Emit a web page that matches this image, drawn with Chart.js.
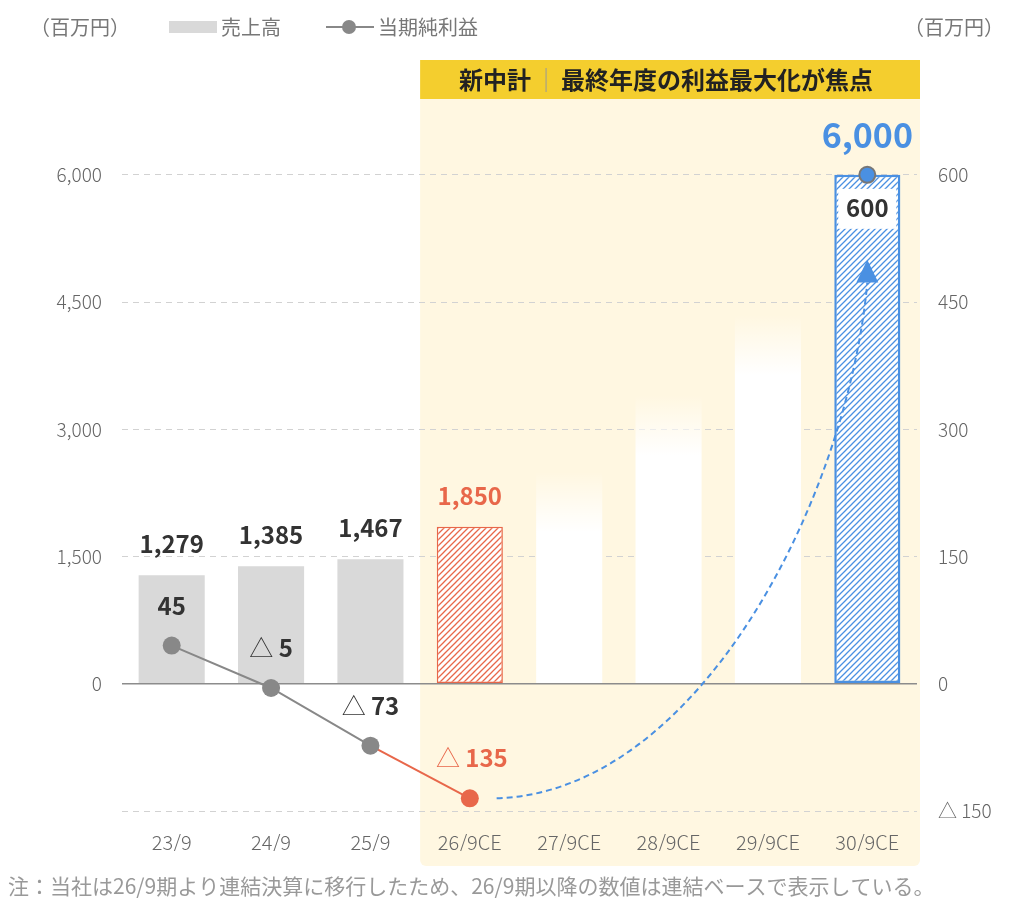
<!DOCTYPE html>
<html>
<head>
<meta charset="utf-8">
<script src="https://cdn.jsdelivr.net/npm/chart.js@4/dist/chart.umd.min.js"></script>
<style>
  body { margin: 0; background: #fff; }
  #wrap { width: 1010px; height: 907px; }
</style>
</head>
<body>
<div id="wrap"><canvas id="myChart" width="1010" height="907"></canvas></div>
<script>
// data
const categories = ['23/9', '24/9', '25/9', '26/9CE', '27/9CE', '28/9CE', '29/9CE', '30/9CE'];
const sales = [1279, 1385, 1467, 1850, 2500, 3400, 4350, 6000];
const salesLabels = ['1,279', '1,385', '1,467', '1,850', null, null, null, '6,000'];
const profit = [45, -5, -73, -135, null, null, null, 600];
const profitLabels = ['45', '△ 5', '△ 73', '△ 135', null, null, null, '600'];
const leftTicks = [-1500, 0, 1500, 3000, 4500, 6000];
const leftTickLabels = ['', '0', '1,500', '3,000', '4,500', '6,000'];
const rightTicks = [-150, 0, 150, 300, 450, 600];
const rightTickLabels = ['△ 150', '0', '150', '300', '450', '600'];
// guide arrow (category index, right-axis value)
const arrowPath = [[3.27, -135], [5.3, -128], [6.8, 217], [7, 473]];
const arrowTip = 500;

const firstPlan = 3;
const lastIdx = categories.length - 1;
const FONT = '"Noto Sans CJK JP", "Noto Sans", sans-serif';
const RED = '#E8674A';
const BLUE = '#4A90E2';
const GRAY = '#888888';

function makeHatch(color) {
  const c = document.createElement('canvas');
  c.width = 6; c.height = 6;
  const g = c.getContext('2d');
  g.fillStyle = '#fff';
  g.fillRect(0, 0, 6, 6);
  g.strokeStyle = color;
  g.lineWidth = 1.3;
  g.beginPath();
  g.moveTo(0, 6); g.lineTo(6, 0);
  g.moveTo(-1, 1); g.lineTo(1, -1);
  g.moveTo(5, 7); g.lineTo(7, 5);
  g.stroke();
  return g.createPattern(c, 'repeat');
}
const redHatch = makeHatch(RED);
const blueHatch = makeHatch(BLUE);

function barFill(ctx) {
  if (ctx.type !== 'data') return '#d9d9d9';
  const i = ctx.dataIndex;
  if (i < firstPlan) return '#d9d9d9';
  if (i === firstPlan) return redHatch;
  if (i === lastIdx) return blueHatch;
  const y = ctx.chart.scales.y;
  if (!y || !ctx.chart.chartArea) return '#fff';
  const top = y.getPixelForValue(sales[i]);
  const g = ctx.chart.ctx.createLinearGradient(0, top, 0, top + 60);
  g.addColorStop(0, 'rgba(255,255,255,0)');
  g.addColorStop(1, '#ffffff');
  return g;
}

// yellow plan area + banner
const planBg = {
  id: 'planBg',
  beforeDraw(chart) {
    const ctx = chart.ctx, x = chart.scales.x;
    const half = (x.getPixelForValue(1) - x.getPixelForValue(0)) / 2;
    const l = x.getPixelForValue(firstPlan) - half;
    const r = x.getPixelForValue(lastIdx) + half + 3;
    ctx.save();
    ctx.fillStyle = '#FFF7E1';
    ctx.beginPath();
    ctx.roundRect(l, 60, r - l, 806, [0, 0, 6, 6]);
    ctx.fill();
    ctx.fillStyle = '#F4CE2E';
    ctx.fillRect(l, 60, r - l, 39);
    ctx.font = 'bold 24px ' + FONT;
    ctx.fillStyle = '#222';
    ctx.textBaseline = 'middle';
    const t1 = '新中計', t2 = '最終年度の利益最大化が焦点';
    const w1 = ctx.measureText(t1).width, w2 = ctx.measureText(t2).width;
    const gap = 15;
    const sx = (l + r) / 2 - 4 - (w1 + w2 + gap * 2) / 2;
    ctx.fillText(t1, sx, 80);
    ctx.strokeStyle = '#999';
    ctx.lineWidth = 1;
    ctx.beginPath();
    ctx.moveTo(sx + w1 + gap, 68); ctx.lineTo(sx + w1 + gap, 92);
    ctx.stroke();
    ctx.fillText(t2, sx + w1 + gap * 2, 80);
    ctx.restore();
  }
};

function drawDelta(ctx, text, cx, cy, color) {
  // '△' in light weight, number bold
  const parts = text.split(' ');
  ctx.fillStyle = color;
  ctx.textBaseline = 'middle';
  ctx.textAlign = 'left';
  if (parts.length === 1) {
    ctx.font = 'bold 24px ' + FONT;
    const w = ctx.measureText(text).width;
    ctx.fillText(text, cx - w / 2, cy);
    return;
  }
  ctx.font = '300 24px ' + FONT;
  const wt = ctx.measureText('△ ').width;
  ctx.font = 'bold 24px ' + FONT;
  const wn = ctx.measureText(parts[1]).width;
  const sx = cx - (wt + wn) / 2;
  ctx.font = '300 24px ' + FONT;
  ctx.fillText('△', sx, cy);
  ctx.font = 'bold 24px ' + FONT;
  ctx.fillText(parts[1], sx + wt, cy);
}

const labelsPlugin = {
  id: 'labelsPlugin',
  afterDatasetsDraw(chart) {
    const ctx = chart.ctx, x = chart.scales.x, y1 = chart.scales.y1;
    const bars = chart.getDatasetMeta(0).data;
    const pts = chart.getDatasetMeta(1).data;
    ctx.save();
    // guide arrow
    const P = arrowPath.map(p => [x.getPixelForValue(p[0]), y1.getPixelForValue(p[1])]);
    ctx.strokeStyle = BLUE;
    ctx.lineWidth = 2;
    ctx.setLineDash([6, 4]);
    ctx.beginPath();
    ctx.moveTo(P[0][0], P[0][1]);
    ctx.bezierCurveTo(P[1][0], P[1][1], P[2][0], P[2][1], P[3][0], P[3][1]);
    ctx.stroke();
    ctx.setLineDash([]);
    const tipY = y1.getPixelForValue(arrowTip);
    ctx.fillStyle = BLUE;
    ctx.beginPath();
    ctx.moveTo(P[3][0], tipY);
    ctx.lineTo(P[3][0] - 11, P[3][1]);
    ctx.lineTo(P[3][0] + 11, P[3][1]);
    ctx.closePath();
    ctx.fill();

    // bar labels
    ctx.textAlign = 'center';
    ctx.textBaseline = 'middle';
    bars.forEach((b, i) => {
      if (!salesLabels[i]) return;
      if (i === lastIdx) {
        ctx.font = 'bold 34px ' + FONT;
        ctx.fillStyle = BLUE;
        ctx.fillText(salesLabels[i], b.x, b.y - 40);
      } else {
        ctx.font = 'bold 24px ' + FONT;
        ctx.fillStyle = i === firstPlan ? RED : '#333';
        ctx.fillText(salesLabels[i], b.x, b.y - 31);
      }
    });
    // profit labels
    pts.forEach((p, i) => {
      if (!profitLabels[i] || profit[i] === null) return;
      if (i === lastIdx) {
        const b = bars[i];
        ctx.fillStyle = '#fff';
        ctx.fillRect(b.x - b.width / 2 + 4, p.y + 14, b.width - 8, 40);
        ctx.font = 'bold 24px ' + FONT;
        ctx.fillStyle = '#333';
        ctx.textAlign = 'center';
        ctx.fillText(profitLabels[i], b.x, p.y + 33);
      } else {
        drawDelta(ctx, profitLabels[i], p.x + (i === firstPlan ? 2 : 0), p.y - 40, i === firstPlan ? RED : '#333');
      }
    });
    ctx.restore();
  },
  afterDraw(chart) {
    const ctx = chart.ctx;
    ctx.save();
    ctx.textBaseline = 'middle';
    ctx.font = '20px ' + FONT;
    ctx.fillStyle = '#777';
    ctx.textAlign = 'left';
    ctx.fillText('（百万円）', 30, 27);
    ctx.textAlign = 'right';
    ctx.fillText('（百万円）', 1004, 27);
    ctx.textAlign = 'left';
    ctx.fillStyle = '#d9d9d9';
    ctx.fillRect(169, 21, 48, 12);
    ctx.fillStyle = '#777';
    ctx.fillText('売上高', 221, 27);
    ctx.strokeStyle = GRAY;
    ctx.lineWidth = 2;
    ctx.beginPath();
    ctx.moveTo(326, 27); ctx.lineTo(374, 27);
    ctx.stroke();
    ctx.fillStyle = GRAY;
    ctx.beginPath();
    ctx.arc(349, 27, 7, 0, Math.PI * 2);
    ctx.fill();
    ctx.fillStyle = '#777';
    ctx.fillText('当期純利益', 378, 27);
    // footnote
    ctx.font = '21px ' + FONT;
    ctx.fillStyle = '#999';
    ctx.fillText('注：当社は26/9期より連結決算に移行したため、26/9期以降の数値は連結ベースで表示している。', 8, 886);
    ctx.restore();
  }
};

const config = {
  data: {
    labels: categories,
    datasets: [{
      type: 'bar',
      label: '売上高',
      data: sales,
      yAxisID: 'y',
      order: 2,
      backgroundColor: barFill,
      borderColor: ctx => ctx.dataIndex === lastIdx ? BLUE : RED,
      borderWidth: ctx => ctx.dataIndex === firstPlan ? 1.5 : (ctx.dataIndex === lastIdx ? 2.5 : 0),
      borderSkipped: false,
      categoryPercentage: 1,
      barPercentage: 0.665
    }, {
      type: 'line',
      label: '当期純利益',
      data: profit,
      yAxisID: 'y1',
      order: 1,
      borderColor: GRAY,
      borderWidth: 2,
      spanGaps: false,
      segment: {
        borderColor: ctx => ctx.p1DataIndex === firstPlan ? RED : GRAY
      },
      pointRadius: ctx => ctx.dataIndex === lastIdx ? 8 : 9,
      pointBackgroundColor: ctx => ctx.dataIndex === firstPlan ? RED : (ctx.dataIndex === lastIdx ? BLUE : GRAY),
      pointBorderColor: ctx => ctx.dataIndex === lastIdx ? '#777' : 'rgba(0,0,0,0)',
      pointBorderWidth: ctx => ctx.dataIndex === lastIdx ? 2 : 0
    }]
  },
  options: {
    responsive: false,
    animation: false,
    layout: { padding: { top: 90, bottom: 56, left: 0, right: 0 } },
    plugins: { legend: { display: false }, tooltip: { enabled: false } },
    scales: {
      x: {
        grid: { display: false },
        border: { display: false },
        ticks: { color: '#666', font: { family: FONT, size: 20, weight: '300' }, padding: 11 },
        afterFit: s => { s.height = 40; }
      },
      y: {
        position: 'left',
        min: -1500,
        max: 7000,
        afterBuildTicks: s => { s.ticks = leftTicks.map(v => ({ value: v })); },
        afterFit: s => { s.width = 122; },
        ticks: {
          color: '#666',
          font: { family: FONT, size: 19, weight: '300' },
          padding: 20,
          callback: (v, i) => leftTickLabels[i]
        },
        grid: {
          drawTicks: false,
          color: ctx => ctx.tick && ctx.tick.value === 0 ? '#8c8c8c' : '#d2d2d2',
          lineWidth: ctx => ctx.tick && ctx.tick.value === 0 ? 1.5 : 1
        },
        border: {
          display: false,
          dash: ctx => ctx.tick && ctx.tick.value === 0 ? [] : [6, 5]
        }
      },
      y1: {
        position: 'right',
        min: -150,
        max: 700,
        afterBuildTicks: s => { s.ticks = rightTicks.map(v => ({ value: v })); },
        afterFit: s => { s.width = 93; },
        ticks: {
          color: '#666',
          font: { family: FONT, size: 19, weight: '300' },
          padding: 21,
          callback: (v, i) => rightTickLabels[i]
        },
        grid: { display: false, drawTicks: false },
        border: { display: false }
      }
    }
  },
  plugins: [planBg, labelsPlugin]
};

const myChart = new Chart(document.getElementById('myChart'), config);
</script>
</body>
</html>
